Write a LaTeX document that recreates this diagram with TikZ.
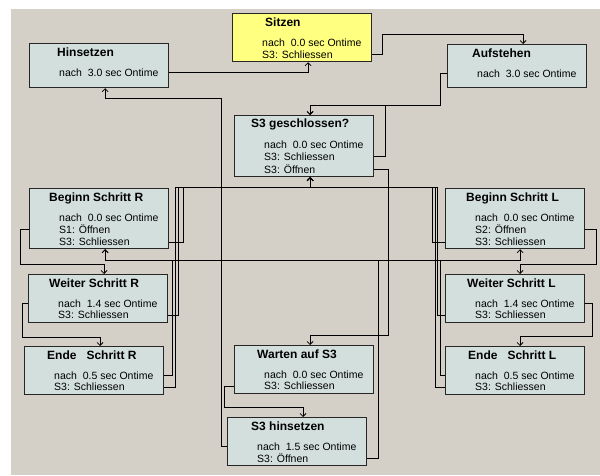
\documentclass[tikz,border=0pt]{standalone}
\usepackage{fontspec}
\setmainfont{Liberation Sans}
\usepackage{tikz}
\usetikzlibrary{arrows.meta}
\usetikzlibrary{positioning}
\definecolor{mybgcolor}{RGB}{212,208,200}
\definecolor{myboxcolor}{RGB}{211,223,221}
\definecolor{mystartcolor}{RGB}{255,255,128}

\begin{document}
\begin{tikzpicture}[x=1pt,y=-1pt,
  zustand/.style={draw=black!85, line width=1.2pt, fill=myboxcolor, minimum width=139pt, anchor=north west, inner sep=0pt},
  titel/.style={anchor=west, inner sep=0pt, font=\fontsize{12}{12}\selectfont\bfseries},
  zeile/.style={anchor=west, inner sep=0pt, font=\fontsize{10.5}{10.5}\selectfont},
  pfeil/.style={line width=0.8pt, -{Straight Barb[length=3pt,width=6pt]}}]
\useasboundingbox (0,0) rectangle (600,475);
\fill[white] (0,0) rectangle (600,475);
\fill[mybgcolor] (11,9) rectangle (600,475);

\node[zustand, minimum height=44pt] (hin) at (29,43) {};
\node[zustand, minimum height=48pt, fill=mystartcolor] (sitz) at (232,13) {};
\node[zustand, minimum height=43pt] (auf) at (447,44) {};
\node[zustand, minimum height=61pt] (geschl) at (234,115) {};
\node[zustand, minimum height=60pt] (begR) at (29,188) {};
\node[zustand, minimum height=60pt] (begL) at (445,188) {};
\node[zustand, minimum height=48pt] (weiR) at (28,274) {};
\node[zustand, minimum height=48pt] (weiL) at (445,274) {};
\node[zustand, minimum height=48pt] (endR) at (24,346) {};
\node[zustand, minimum height=48pt] (endL) at (445,346) {};
\node[zustand, minimum height=48pt] (wart) at (234,345) {};
\node[zustand, minimum height=48pt] (s3h) at (227,417) {};

\node[titel] (hinT) at ([xshift=28pt,yshift=-9.5pt]hin.north west) {Hinsetzen};
\node[zeile] (hin1) at ([xshift=30pt,yshift=-29.5pt]hin.north west) {nach\ \ 3.0 sec Ontime};

\node[titel] (sitzT) at ([xshift=33pt,yshift=-9.5pt]sitz.north west) {Sitzen};
\node[zeile] (sitz1) at ([xshift=30pt,yshift=-29.5pt]sitz.north west) {nach\ \ 0.0 sec Ontime};
\node[zeile] (sitz2) at ([xshift=30pt,yshift=-41.5pt]sitz.north west) {S3: Schliessen};

\node[titel] (aufT) at ([xshift=25pt,yshift=-9.5pt]auf.north west) {Aufstehen};
\node[zeile] (auf1) at ([xshift=30pt,yshift=-29.5pt]auf.north west) {nach\ \ 3.0 sec Ontime};

\node[titel] (geschlT) at ([xshift=17pt,yshift=-9.5pt]geschl.north west) {S3 geschlossen?};
\node[zeile] (g1) at ([xshift=30pt,yshift=-29.5pt]geschl.north west) {nach\ \ 0.0 sec Ontime};
\node[zeile] (g2) at ([xshift=30pt,yshift=-41.5pt]geschl.north west) {S3: Schliessen};
\node[zeile] (g3) at ([xshift=30pt,yshift=-54pt]geschl.north west) {S3: Öffnen};

\node[titel] (begRT) at ([xshift=20pt,yshift=-10pt]begR.north west) {Beginn Schritt R};
\node[zeile] (bR1) at ([xshift=30pt,yshift=-29.5pt]begR.north west) {nach\ \ 0.0 sec Ontime};
\node[zeile] (bR2) at ([xshift=30pt,yshift=-41.5pt]begR.north west) {S1: Öffnen};
\node[zeile] (bR3) at ([xshift=30pt,yshift=-54pt]begR.north west) {S3: Schliessen};

\node[titel] (begLT) at ([xshift=21pt,yshift=-10pt]begL.north west) {Beginn Schritt L};
\node[zeile] (bL1) at ([xshift=30pt,yshift=-29.5pt]begL.north west) {nach\ \ 0.0 sec Ontime};
\node[zeile] (bL2) at ([xshift=30pt,yshift=-41.5pt]begL.north west) {S2: Öffnen};
\node[zeile] (bL3) at ([xshift=30pt,yshift=-54pt]begL.north west) {S3: Schliessen};

\node[titel] (weiRT) at ([xshift=21pt,yshift=-9.5pt]weiR.north west) {Weiter Schritt R};
\node[zeile] (wR1) at ([xshift=30pt,yshift=-29.5pt]weiR.north west) {nach\ \ 1.4 sec Ontime};
\node[zeile] (wR2) at ([xshift=30pt,yshift=-41pt]weiR.north west) {S3: Schliessen};

\node[titel] (weiLT) at ([xshift=22pt,yshift=-9.5pt]weiL.north west) {Weiter Schritt L};
\node[zeile] (wL1) at ([xshift=30pt,yshift=-29.5pt]weiL.north west) {nach\ \ 1.4 sec Ontime};
\node[zeile] (wL2) at ([xshift=30pt,yshift=-41pt]weiL.north west) {S3: Schliessen};

\node[titel] (endRT) at ([xshift=23pt,yshift=-9.5pt]endR.north west) {Ende\ \ \ Schritt R};
\node[zeile] (eR1) at ([xshift=30pt,yshift=-29.5pt]endR.north west) {nach\ \ 0.5 sec Ontime};
\node[zeile] (eR2) at ([xshift=30pt,yshift=-41pt]endR.north west) {S3: Schliessen};

\node[titel] (endLT) at ([xshift=23pt,yshift=-9.5pt]endL.north west) {Ende\ \ \ Schritt L};
\node[zeile] (eL1) at ([xshift=30pt,yshift=-29.5pt]endL.north west) {nach\ \ 0.5 sec Ontime};
\node[zeile] (eL2) at ([xshift=30pt,yshift=-41pt]endL.north west) {S3: Schliessen};

\node[titel] (wartT) at ([xshift=23pt,yshift=-9.5pt]wart.north west) {Warten auf S3};
\node[zeile] (w1) at ([xshift=30pt,yshift=-29.5pt]wart.north west) {nach\ \ 0.0 sec Ontime};
\node[zeile] (w2) at ([xshift=30pt,yshift=-41pt]wart.north west) {S3: Schliessen};

\node[titel] (s3hT) at ([xshift=24pt,yshift=-9.5pt]s3h.north west) {S3 hinsetzen};
\node[zeile] (s1) at ([xshift=30pt,yshift=-29.5pt]s3h.north west) {nach\ \ 1.5 sec Ontime};
\node[zeile] (s2) at ([xshift=30pt,yshift=-41pt]s3h.north west) {S3: Öffnen};

\coordinate (busG) at ([xshift=6pt,yshift=-10pt]geschl.south);
\coordinate (busR) at ([xshift=6pt,yshift=-11pt]begR.south);
\coordinate (busL) at ([xshift=5pt,yshift=-11pt]begL.south);

\draw[pfeil] (hin.east |- hin1) -| ([xshift=6pt]sitz.south);
\draw[pfeil] (sitz.east |- sitz2) -- ++(10,0) -- ++(0,-20) -| ([xshift=6pt]auf.north);
\draw[pfeil] (auf.west |- auf1) -- ++(-7,0) |- ([xshift=6pt,yshift=10pt]geschl.north) -- ([xshift=6pt]geschl.north);
\draw[pfeil] (geschl.east |- g2) -- ++(11,0) |- ([xshift=6pt,yshift=10pt]geschl.north) -- ([xshift=6pt]geschl.north);
\draw[pfeil] (geschl.east |- g3) -- ++(14,0) |- ([xshift=6pt,yshift=10pt]wart.north) -- ([xshift=6pt]wart.north);
\draw[pfeil] (wart.west |- w2) -- ++(-10,0) |- ([xshift=6pt,yshift=10pt]s3h.north) -- ([xshift=6pt]s3h.north);
\draw[pfeil] (s3h.west |- s1) -- ++(-6,0) |- ([xshift=6pt,yshift=-10pt]hin.south) -- ([xshift=6pt]hin.south);
\draw[pfeil] (s3h.east |- s2) -- ++(11,0) |- (busR) -- ([xshift=6pt]begR.south);

\draw[pfeil] (begR.west |- bR2) -- ++(-9,0) |- ([xshift=6pt,yshift=10pt]weiR.north) -- ([xshift=6pt]weiR.north);
\draw[pfeil] (weiR.west |- wR1) -- ++(-6,0) |- ([xshift=6pt,yshift=9pt]endR.north) -- ([xshift=6pt]endR.north);
\draw[pfeil] (begL.east |- bL2) -- ++(11,0) |- ([xshift=5pt,yshift=10pt]weiL.north) -- ([xshift=5pt]weiL.north);
\draw[pfeil] (weiL.east |- wL1) -- ++(7,0) |- ([xshift=5pt,yshift=10pt]endL.north) -- ([xshift=5pt]endL.north);

\draw[pfeil] (begR.east |- bR3) -- ++(14,0) |- (busG) -- ([xshift=6pt]geschl.south);
\draw[pfeil] (weiR.east |- wR2) -- ++(10,0) |- (busG) -- ([xshift=6pt]geschl.south);
\draw[pfeil] (endR.east |- eR2) -- ++(11,0) |- (busG) -- ([xshift=6pt]geschl.south);
\draw[pfeil] (begL.west |- bL3) -- ++(-13,0) |- (busG) -- ([xshift=6pt]geschl.south);
\draw[pfeil] (weiL.west |- wL2) -- ++(-8,0) |- (busG) -- ([xshift=6pt]geschl.south);
\draw[pfeil] (endL.west |- eL2) -- ++(-10,0) |- (busG) -- ([xshift=6pt]geschl.south);

\draw[pfeil] (endR.east |- eR1) -- ++(8,0) |- (busL) -- ([xshift=5pt]begL.south);
\draw[pfeil] (endL.west |- eL1) -- ++(-5,0) |- (busR) -- ([xshift=6pt]begR.south);
\end{tikzpicture}
\end{document}
